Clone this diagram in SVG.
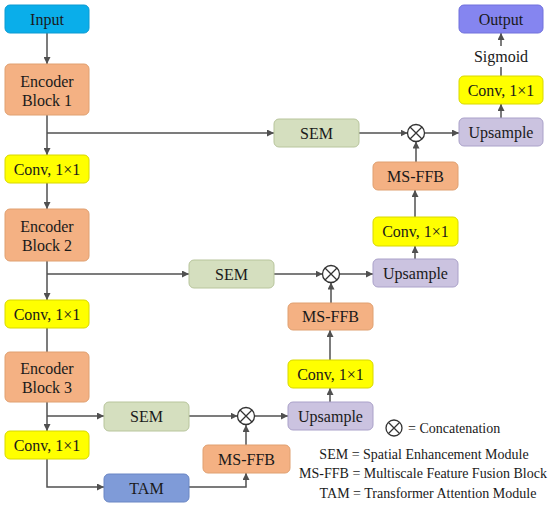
<svg xmlns="http://www.w3.org/2000/svg" width="550" height="507" viewBox="0 0 550 507">
<defs>
<marker id="ah" viewBox="0 0 10 10" refX="10" refY="5" markerWidth="7" markerHeight="7" markerUnits="userSpaceOnUse" orient="auto">
<path d="M0,0 L10,5 L0,10 z" fill="#505050"/>
</marker>
<style>
.n{stroke-width:1}
.t{font-family:"Liberation Serif","Times New Roman",serif;font-size:16px;fill:#1a1a1a;text-anchor:middle;dominant-baseline:central}
.lg{font-family:"Liberation Serif","Times New Roman",serif;font-size:14px;fill:#1a1a1a}
.orange{fill:#f4b183;stroke:#e0a070}
.sem{fill:#d5dfbf;stroke:#b8c59c}
.yel{fill:#ffff00;stroke:#d8d800}
.ups{fill:#cbc3e0;stroke:#aaa1c9}
.tam{fill:#7f9bd8;stroke:#6a86c4}
.out{fill:#8585f0;stroke:#7070dc}
.inp{fill:#0aaeea;stroke:#0a9ad2}
.c{fill:none;stroke:#505050;stroke-width:1.5}
.cx{fill:#fff;stroke:#333;stroke-width:1.3}
</style>
</defs>
<rect width="550" height="507" fill="#fff"/>

<g id="connectors">
<path class="c" d="M47,33 V64" marker-end="url(#ah)"/>
<path class="c" d="M47,115 V155" marker-end="url(#ah)"/>
<path class="c" d="M47,133 H274" marker-end="url(#ah)"/>
<path class="c" d="M47,183 V209" marker-end="url(#ah)"/>
<path class="c" d="M47,261 V300" marker-end="url(#ah)"/>
<path class="c" d="M47,274 H189" marker-end="url(#ah)"/>
<path class="c" d="M47,328 V352"/>
<path class="c" d="M47,402 V431" marker-end="url(#ah)"/>
<path class="c" d="M47,416 H104" marker-end="url(#ah)"/>
<path class="c" d="M47,459 V487 H104" marker-end="url(#ah)"/>
<path class="c" d="M189,487 H246 V473" marker-end="url(#ah)"/>
<path class="c" d="M246,445 V425" marker-end="url(#ah)"/>
<path class="c" d="M189,416 H237.5" marker-end="url(#ah)"/>
<path class="c" d="M254.5,416 H288" marker-end="url(#ah)"/>
<path class="c" d="M330,402 V388" marker-end="url(#ah)"/>
<path class="c" d="M330,360 V330" marker-end="url(#ah)"/>
<path class="c" d="M331,303 V282.5" marker-end="url(#ah)"/>
<path class="c" d="M274,274 H322.5" marker-end="url(#ah)"/>
<path class="c" d="M339.5,274 H373" marker-end="url(#ah)"/>
<path class="c" d="M415,259 V246" marker-end="url(#ah)"/>
<path class="c" d="M415,217 V190" marker-end="url(#ah)"/>
<path class="c" d="M416,162 V141.5" marker-end="url(#ah)"/>
<path class="c" d="M359,133 H407.5" marker-end="url(#ah)"/>
<path class="c" d="M424.5,133 H459" marker-end="url(#ah)"/>
<path class="c" d="M501,118 V104" marker-end="url(#ah)"/>
<path class="c" d="M501,76 V67"/>
<path class="c" d="M501,46 V33" marker-end="url(#ah)"/>
</g>

<g id="input"><rect class="n inp" x="5" y="5" width="84" height="28" rx="5"/><text class="t" x="47" y="19">Input</text></g>
<g id="enc1"><rect class="n orange" x="5" y="64" width="84" height="51" rx="5"/><text class="t" x="47" y="81">Encoder</text><text class="t" x="47" y="100">Block 1</text></g>
<g id="conv1"><rect class="n yel" x="5" y="155" width="84" height="28" rx="5"/><text class="t" x="47" y="169">Conv, 1×1</text></g>
<g id="enc2"><rect class="n orange" x="5" y="209" width="84" height="52" rx="5"/><text class="t" x="47" y="226">Encoder</text><text class="t" x="47" y="245">Block 2</text></g>
<g id="conv2"><rect class="n yel" x="5" y="300" width="84" height="28" rx="5"/><text class="t" x="47" y="314">Conv, 1×1</text></g>
<g id="enc3"><rect class="n orange" x="5" y="352" width="84" height="50" rx="5"/><text class="t" x="47" y="368">Encoder</text><text class="t" x="47" y="387">Block 3</text></g>
<g id="conv3"><rect class="n yel" x="5" y="431" width="84" height="28" rx="5"/><text class="t" x="47" y="445">Conv, 1×1</text></g>

<g id="sem1"><rect class="n sem" x="274" y="119" width="85" height="28" rx="5"/><text class="t" x="316.5" y="133">SEM</text></g>
<g id="sem2"><rect class="n sem" x="189" y="260" width="85" height="28" rx="5"/><text class="t" x="231.5" y="274">SEM</text></g>
<g id="sem3"><rect class="n sem" x="104" y="402" width="85" height="29" rx="5"/><text class="t" x="146.5" y="416.5">SEM</text></g>
<g id="tam"><rect class="n tam" x="104" y="474" width="85" height="28" rx="5"/><text class="t" x="146.5" y="488">TAM</text></g>

<g id="msffb3"><rect class="n orange" x="203" y="445" width="87" height="28" rx="5"/><text class="t" x="246.5" y="459">MS-FFB</text></g>
<g id="concat3"><circle class="cx" cx="246" cy="416" r="8.5"/><path d="M240,410 L252,422 M252,410 L240,422" stroke="#333" stroke-width="1.3"/></g>
<g id="ups3"><rect class="n ups" x="288" y="402" width="85" height="28" rx="5"/><text class="t" x="330.5" y="416">Upsample</text></g>
<g id="conv4"><rect class="n yel" x="288" y="360" width="85" height="28" rx="5"/><text class="t" x="330.5" y="374">Conv, 1×1</text></g>
<g id="msffb2"><rect class="n orange" x="288" y="303" width="85" height="27" rx="5"/><text class="t" x="330.5" y="316.5">MS-FFB</text></g>
<g id="concat2"><circle class="cx" cx="331" cy="274" r="8.5"/><path d="M325,268 L337,280 M337,268 L325,280" stroke="#333" stroke-width="1.3"/></g>
<g id="ups2"><rect class="n ups" x="373" y="259" width="85" height="28" rx="5"/><text class="t" x="415.5" y="273">Upsample</text></g>
<g id="conv5"><rect class="n yel" x="373" y="217" width="85" height="29" rx="5"/><text class="t" x="415.5" y="231.5">Conv, 1×1</text></g>
<g id="msffb1"><rect class="n orange" x="373" y="162" width="85" height="28" rx="5"/><text class="t" x="415.5" y="176">MS-FFB</text></g>
<g id="concat1"><circle class="cx" cx="416" cy="133" r="8.5"/><path d="M410,127 L422,139 M422,127 L410,139" stroke="#333" stroke-width="1.3"/></g>
<g id="ups1"><rect class="n ups" x="459" y="118" width="84" height="28" rx="5"/><text class="t" x="501" y="132">Upsample</text></g>
<g id="conv6"><rect class="n yel" x="459" y="76" width="84" height="28" rx="5"/><text class="t" x="501" y="90">Conv, 1×1</text></g>
<g id="sigmoid"><text class="t" x="501" y="56">Sigmoid</text></g>
<g id="output"><rect class="n out" x="459" y="5" width="84" height="28" rx="5"/><text class="t" x="501" y="19">Output</text></g>

<g id="legend">
<circle class="cx" cx="394" cy="428" r="8"/><path d="M388.5,422.5 L399.5,433.5 M399.5,422.5 L388.5,433.5" stroke="#333" stroke-width="1.3"/>
<text class="lg" x="408" y="433">= Concatenation</text>
<text class="lg" x="424" y="459" text-anchor="middle">SEM = Spatial Enhancement Module</text>
<text class="lg" x="423" y="478" text-anchor="middle">MS-FFB = Multiscale Feature Fusion Block</text>
<text class="lg" x="428" y="498" text-anchor="middle">TAM = Transformer Attention Module</text>
</g>
</svg>
